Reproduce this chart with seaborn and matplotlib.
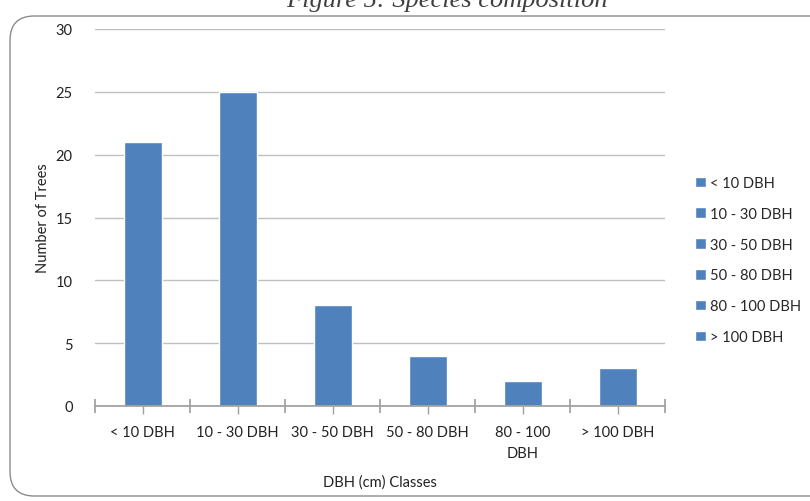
import matplotlib
matplotlib.use("Agg")
import matplotlib.pyplot as plt
import pandas as pd
import seaborn as sns
from matplotlib.patches import FancyBboxPatch
from matplotlib.ticker import MultipleLocator


CLASSES = ["< 10 DBH", "10 - 30 DBH", "30 - 50 DBH", "50 - 80 DBH", "80 - 100 DBH", "> 100 DBH"]
TICK_LABELS = ["< 10 DBH", "10 - 30 DBH", "30 - 50 DBH", "50 - 80 DBH", "80 - 100\nDBH", "> 100 DBH"]
TREES = [21, 25, 8, 4, 2, 3]

BAR_COLOR = "#4F81BD"


def main() -> None:
    data = pd.DataFrame({"dbh_class": CLASSES, "trees": TREES})

    sns.set_theme(style="white")
    plt.rcParams["font.family"] = ["Lato", "DejaVu Sans"]

    fig = plt.figure(figsize=(8.1, 5.02), dpi=100)
    ax = fig.add_axes([95 / 810, 95 / 502, 570 / 810, 377 / 502])

    sns.barplot(
        data=data,
        x="dbh_class",
        y="trees",
        hue="dbh_class",
        order=CLASSES,
        hue_order=CLASSES,
        palette=[BAR_COLOR] * len(CLASSES),
        width=0.4,
        saturation=1,
        legend=True,
        ax=ax,
    )

    ax.set_ylim(0, 30)
    ax.set_xlim(-0.5, len(CLASSES) - 0.5)
    ax.yaxis.set_major_locator(MultipleLocator(5))
    ax.grid(axis="y", color="#BFBFBF", linewidth=1)
    ax.set_axisbelow(True)
    for side in ["top", "right", "left"]:
        ax.spines[side].set_visible(False)
    ax.spines["bottom"].set_color("#A0A0A0")

    ax.set_xticks([i - 0.5 for i in range(len(CLASSES) + 1)])
    ax.set_xticklabels([])
    ax.set_xticks(range(len(CLASSES)), minor=True)
    ax.set_xticklabels(TICK_LABELS, minor=True, fontsize=10.5, color="#222222", linespacing=1.6)
    ax.tick_params(axis="x", which="major", direction="inout", length=10, color="#A0A0A0", bottom=True)
    ax.tick_params(axis="x", which="minor", direction="out", length=6, color="#A0A0A0", bottom=True, pad=8)
    ax.tick_params(axis="y", length=0, pad=16, labelsize=10.5, labelcolor="#222222")

    ax.set_xlabel("DBH (cm) Classes", fontsize=10.5, labelpad=10, color="#222222")
    ax.set_ylabel("Number of Trees", fontsize=10.5, labelpad=4, color="#222222")

    handles, labels = ax.get_legend_handles_labels()
    ax.get_legend().remove()
    fig.legend(
        handles,
        labels,
        loc="center left",
        bbox_to_anchor=(682 / 810, 1 - 261 / 502),
        frameon=False,
        fontsize=10.5,
        handlelength=0.75,
        handleheight=0.75,
        handletextpad=0.3,
        labelspacing=1.15,
    )

    border = FancyBboxPatch(
        (10 / 810, 5 / 502),
        840 / 810,
        480 / 502,
        boxstyle="round,pad=0,rounding_size=0.03",
        transform=fig.transFigure,
        facecolor="none",
        edgecolor="#8C8C8C",
        linewidth=1,
        mutation_aspect=810 / 502,
    )
    fig.patches.append(border)

    fig.text(
        447 / 810,
        1 - 7 / 502,
        "Figure 5: Species composition",
        ha="center",
        va="baseline",
        fontsize=19,
        style="italic",
        family=["Liberation Serif", "DejaVu Serif"],
        color="#404040",
    )

    fig.savefig("out.png", dpi=100)
    plt.close(fig)


if __name__ == "__main__":
    main()
